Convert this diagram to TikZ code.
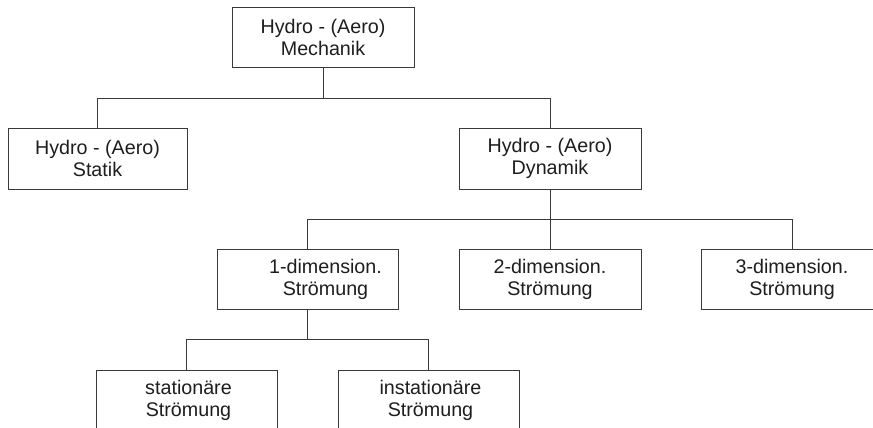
\documentclass[tikz,border=0pt]{standalone}
\usepackage{fontspec}
\setmainfont{Liberation Sans}
\definecolor{linec}{HTML}{3A3A3A}
\definecolor{textc}{HTML}{1E1E1E}
\begin{document}
\begin{tikzpicture}[x=1pt,y=-1pt,
  box/.style={draw=linec, line width=0.8pt, rectangle, inner sep=0pt,
    minimum width=181pt, minimum height=60pt, align=center, text=textc,
    font=\fontsize{19.7}{22}\selectfont},
  txt/.style={inner sep=0pt, align=center, text=textc, font=\fontsize{19.7}{22}\selectfont},
  conn/.style={draw=linec, line width=0.8pt}]
\path[use as bounding box] (0,0) rectangle (873,428);
\clip (0,0) rectangle (873,428);
\fill[white] (0,0) rectangle (873,428);

\node[box, minimum width=182pt] (mech) at (323,37) {Hydro - (Aero)\\Mechanik};
\node[box, minimum width=179pt, minimum height=61pt] (stat) at (97.5,158.5) {Hydro - (Aero)\\Statik};
\node[box, minimum width=182pt, minimum height=61pt] (dyn) at (550,158.5) {Hydro - (Aero)\\Dynamik};
\node[box] (d1) at (307.5,279) {};
\node[txt] (d1t) at (325.5,279) {1-dimension.\\Strömung};
\node[box, minimum width=182pt] (d2) at (550,279) {2-dimension.\\Strömung};
\node[box, minimum width=182pt] (d3) at (792,279) {3-dimension.\\Strömung};
\node[box] (st) at (186.5,400) {};
\node[txt] (stt) at (188.5,400) {stationäre\\Strömung};
\node[box] (ins) at (428.5,400) {};
\node[txt] (inst) at (430.5,400) {instationäre\\Strömung};

\draw[conn] (mech.south) -- ++(0,31) coordinate (j1);
\draw[conn] (stat.north) |- (j1) -| (dyn.north);
\draw[conn] (dyn.south) -- ++(0,29.5) coordinate (j2);
\draw[conn] (d1.north) |- (j2) -| (d3.north);
\draw[conn] (j2) -- (d2.north);
\draw[conn] (d1.south) -- ++(0,30) coordinate (j3);
\draw[conn] (st.north) |- (j3) -| (ins.north);
\end{tikzpicture}
\end{document}
